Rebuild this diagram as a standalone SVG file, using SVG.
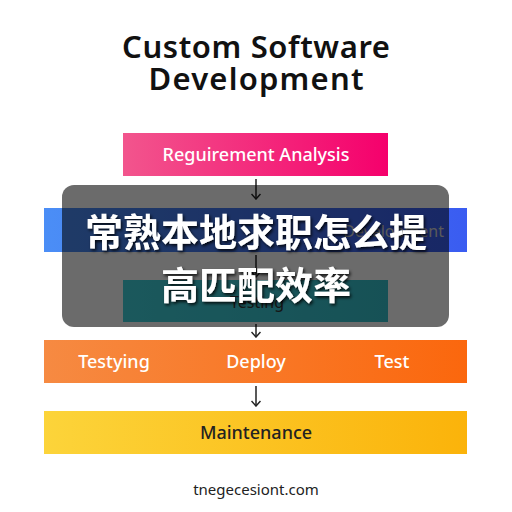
<svg xmlns="http://www.w3.org/2000/svg" width="512" height="512" viewBox="0 0 512 512">
<defs>
<linearGradient id="gPink" x1="0" y1="0" x2="1" y2="0"><stop offset="0" stop-color="#f2558d"/><stop offset="1" stop-color="#f5006c"/></linearGradient>
<linearGradient id="gBlue" x1="0" y1="0" x2="1" y2="0"><stop offset="0" stop-color="#4b8ef6"/><stop offset="1" stop-color="#3a5cf1"/></linearGradient>
<linearGradient id="gTeal" x1="0" y1="0" x2="1" y2="0"><stop offset="0" stop-color="#40d2dc"/><stop offset="1" stop-color="#36c2cd"/></linearGradient>
<linearGradient id="gOrange" x1="0" y1="0" x2="1" y2="0"><stop offset="0" stop-color="#f68a42"/><stop offset="1" stop-color="#fb670d"/></linearGradient>
<linearGradient id="gYellow" x1="0" y1="0" x2="1" y2="0"><stop offset="0" stop-color="#fcd43a"/><stop offset="1" stop-color="#fbb30a"/></linearGradient>
<marker id="arr" viewBox="0 0 10 10" refX="9" refY="5" markerWidth="10" markerHeight="10" markerUnits="userSpaceOnUse" orient="auto">
<path d="M4,0.5 L9,5 L4,9.5" fill="none" stroke="#222" stroke-width="1.5"/>
</marker>
<filter id="sh" x="-10%" y="-20%" width="120%" height="150%"><feDropShadow dx="1.5" dy="2" stdDeviation="1.5" flood-color="#000" flood-opacity="0.8"/></filter>
</defs>
<style>
.t{font-family:"Noto Sans","Liberation Sans",sans-serif}
.title{font-size:31px;font-weight:600;fill:#111}
.lbl{font-size:18px;font-weight:500;fill:#fff}
.dark{fill:#222}
.cjk{font-family:"Noto Sans CJK SC",sans-serif;font-size:38px;font-weight:700;fill:#fff}
.ln{stroke:#222;stroke-width:1.5;fill:none}
</style>
<rect width="512" height="512" fill="#fff"/>
<g id="title">
<text class="t title" x="256" y="58" text-anchor="middle" textLength="268" lengthAdjust="spacing">Custom Software</text>
<text class="t title" x="256" y="90" text-anchor="middle" textLength="215" lengthAdjust="spacing">Development</text>
</g>
<g id="connectors">
<line class="ln" x1="256" y1="179" x2="256" y2="199" marker-end="url(#arr)"/>
<line class="ln" x1="256" y1="255" x2="256" y2="277" marker-end="url(#arr)"/>
<line class="ln" x1="256" y1="324" x2="256" y2="337" marker-end="url(#arr)"/>
<line class="ln" x1="256" y1="386" x2="256" y2="406" marker-end="url(#arr)"/>
</g>
<g id="requirement">
<rect x="123" y="133" width="265" height="43" fill="url(#gPink)"/>
<text class="t lbl" x="256" y="161" text-anchor="middle">Reguirement Analysis</text>
</g>
<g id="development">
<rect x="44" y="208" width="423" height="44" fill="url(#gBlue)"/>
<text class="t" x="444" y="237" text-anchor="end" font-size="16" fill="#d6d6d6">Development</text>
</g>
<g id="testing">
<rect x="123" y="280" width="265" height="42" fill="url(#gTeal)"/>
<text class="t" x="257" y="308" text-anchor="middle" font-size="16" fill="#333">Testing</text>
</g>
<g id="deploy">
<rect x="44" y="340" width="423" height="43" fill="url(#gOrange)"/>
<text class="t lbl" x="114" y="368" text-anchor="middle">Testying</text>
<text class="t lbl" x="256" y="368" text-anchor="middle">Deploy</text>
<text class="t lbl" x="392" y="368" text-anchor="middle">Test</text>
</g>
<g id="maintenance">
<rect x="44" y="411" width="423" height="43" fill="url(#gYellow)"/>
<text class="t dark" x="256" y="439" text-anchor="middle" font-size="18" font-weight="500">Maintenance</text>
</g>
<g id="footer">
<text class="t dark" x="256" y="495" text-anchor="middle" font-size="15">tnegecesiont.com</text>
</g>
<g id="overlay">
<rect x="62" y="185" width="387" height="142" rx="12" fill="#000" fill-opacity="0.58"/>
<text class="cjk" x="256" y="246" text-anchor="middle" filter="url(#sh)">常熟本地求职怎么提</text>
<text class="cjk" x="256" y="299" text-anchor="middle" filter="url(#sh)">高匹配效率</text>
</g>
</svg>
